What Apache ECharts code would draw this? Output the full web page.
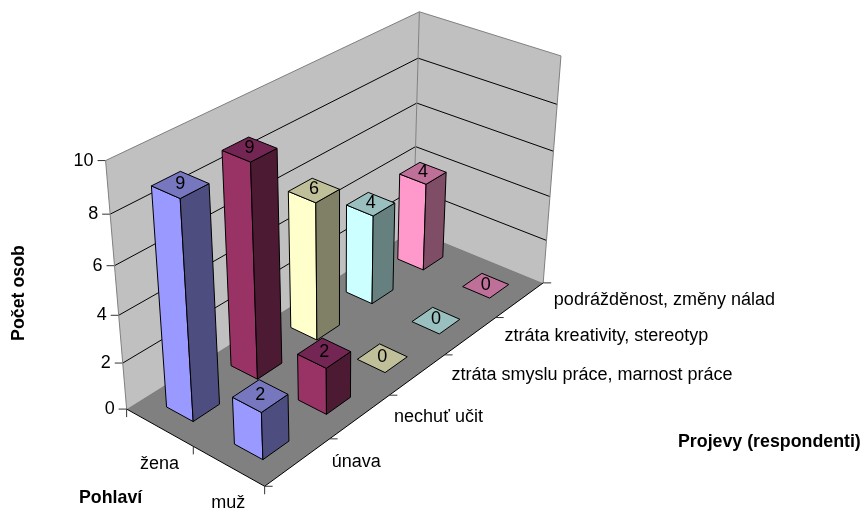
<!DOCTYPE html>
<html><head><meta charset="utf-8">
<style>html,body{margin:0;padding:0;background:#fff}#c{width:866px;height:508px}</style>
<script src="https://cdn.jsdelivr.net/npm/echarts@6/dist/echarts.min.js"></script>
</head><body><div id="c"></div>
<script>
// ---- data ----
const categories = ['únava','nechuť učit','ztráta smyslu práce, marnost práce','ztráta kreativity, stereotyp','podrážděnost, změny nálad'];
const genders = ['žena','muž'];
const valuesZena = [9,9,6,4,4];
const valuesMuz = [2,2,0,0,0];
const valueTicks = [0,2,4,6,8,10];
const frontColors = ['#9999FF','#993366','#FFFFCC','#CCFFFF','#FF99CC'];
const topColors = ['#7777BF','#732653','#BFBF99','#99BFBF','#BF7099'];
const sideColors = ['#4D4D80','#4D1A33','#808066','#668080','#804D66'];

// ---- view calibration of the 3D box: [category pos, gender pos, value, screen x, screen y] ----
const viewAnchors = [
 [0,0,0,126.7,408.5],[0,0,2,122.3,363.3],[0,0,4,118.3,315],[0,0,6,115,265],[0,0,8,110,215],[0,0,10,105.7,160.7],
 [5,0,10,419.3,11.7],[5,0,8,418.3,57.3],[5,0,6,417,104],[5,0,4,415.7,146.7],[5,0,0,413,230],
 [5,2,0,543.3,282.7],[5,2,2,546,240],[5,2,4,550,196.7],[5,2,6,554.3,151.7],[5,2,8,557,104.3],[5,2,10,560.3,55.7],
 [0,2,0,265,486.7]
];
const barSize = 0.4;

function fitCamera(pts){
  const n=11, A=Array.from({length:n},()=>new Array(n+1).fill(0));
  const add=(r,b)=>{for(let i=0;i<n;i++){for(let j=0;j<n;j++)A[i][j]+=r[i]*r[j];A[i][n]+=r[i]*b;}};
  pts.forEach(([u,v,z,x,y])=>{
    const U=u/5,V=v/2,Z=z/10,X=x/500,Y=y/500;
    add([U,V,Z,1,0,0,0,0,-X*U,-X*V,-X*Z],X);
    add([0,0,0,0,U,V,Z,1,-Y*U,-Y*V,-Y*Z],Y);
  });
  for(let i=0;i<n;i++){
    let p=i;for(let k=i+1;k<n;k++)if(Math.abs(A[k][i])>Math.abs(A[p][i]))p=k;
    [A[i],A[p]]=[A[p],A[i]];
    for(let k=0;k<n;k++){if(k===i)continue;const f=A[k][i]/A[i][i];for(let j=i;j<=n;j++)A[k][j]-=f*A[i][j];}
  }
  return A.map((r,i)=>r[n]/r[i]);
}
const cam=fitCamera(viewAnchors);
function pr(u,v,z){
  const U=u/5,V=v/2,Z=z/10,w=cam[8]*U+cam[9]*V+cam[10]*Z+1;
  return [500*(cam[0]*U+cam[1]*V+cam[2]*Z+cam[3])/w,500*(cam[4]*U+cam[5]*V+cam[6]*Z+cam[7])/w];
}
const FONT='18px "Liberation Sans", Arial, sans-serif';
const BOLD='bold 17.8px "Liberation Sans", Arial, sans-serif';
const poly=(points,fill,stroke,lw)=>({type:'polygon',shape:{points},style:{fill,stroke:stroke||null,lineWidth:lw||1}});
const line=(points,stroke)=>({type:'polyline',shape:{points},style:{fill:null,stroke,lineWidth:1}});
const text=(t,x,y,align,font)=>({type:'text',style:{text:t,x,y,fill:'#000',font:font||FONT,align:align||'center',verticalAlign:'middle'}});

function renderScene(){
  const maxV=valueTicks[valueTicks.length-1],nc=categories.length,ng=genders.length,ch=[];
  ch.push(poly([pr(0,0,0),pr(nc,0,0),pr(nc,0,maxV),pr(0,0,maxV)],'#C0C0C0'));
  ch.push(poly([pr(nc,0,0),pr(nc,ng,0),pr(nc,ng,maxV),pr(nc,0,maxV)],'#C0C0C0'));
  ch.push(poly([pr(0,0,0),pr(0,ng,0),pr(nc,ng,0),pr(nc,0,0)],'#808080'));
  valueTicks.forEach(t=>{
    if(t>0&&t<maxV) ch.push(line([pr(0,0,t),pr(nc,0,t),pr(nc,ng,t)],'#000'));
    const p=pr(0,0,t);
    ch.push(line([p,[p[0]-8,p[1]]],'#333'));
    ch.push(text(String(t),p[0]-12,p[1],'right'));
  });
  ch.push(line([pr(0,0,0),pr(0,0,maxV),pr(nc,0,maxV),pr(nc,ng,maxV),pr(nc,ng,0)],'#808080'));
  ch.push(line([pr(nc,0,0),pr(nc,0,maxV)],'#808080'));
  ch.push(line([pr(0,0,0),pr(0,ng,0),pr(nc,ng,0)],'#000'));
  for(let g=0;g<=ng;g++){const p=pr(0,g,0);ch.push(line([p,[p[0],p[1]+8]],'#333'));}
  for(let c=0;c<=nc;c++){const p=pr(c,ng,0);ch.push(line([p,[p[0]+8,p[1]]],'#333'));}
  categories.forEach((n,c)=>{const p=pr(c+.5,ng,0);ch.push(text(n,p[0]+34,p[1],'left'));});
  genders.forEach((n,g)=>{const p=pr(0,g+.5,0);ch.push(text(n,p[0],p[1]+37));});
  return {type:'group',children:ch};
}
function renderBar(params,api){
  const c=api.value(0),g=api.value(1),val=api.value(2),h=barSize/2;
  const u0=c+.5-h,u1=c+.5+h,v0=g+.5-h,v1=g+.5+h,ch=[];
  const k='#000';
  if(val>0){
    ch.push(poly([pr(u0,v0,0),pr(u0,v1,0),pr(u0,v1,val),pr(u0,v0,val)],frontColors[c],k));
    ch.push(poly([pr(u0,v1,0),pr(u1,v1,0),pr(u1,v1,val),pr(u0,v1,val)],sideColors[c],k));
  }
  ch.push(poly([pr(u0,v0,val),pr(u0,v1,val),pr(u1,v1,val),pr(u1,v0,val)],topColors[c],k));
  const m=pr(c+.5,g+.5,val);
  ch.push(text(String(val),m[0],m[1]-1));
  return {type:'group',children:ch};
}
// back to front: far categories first, back row (žena) before front row (muž)
const barData=[];
for(let c=categories.length-1;c>=0;c--){barData.push([c,0,valuesZena[c]]);barData.push([c,1,valuesMuz[c]]);}

const chart=echarts.init(document.getElementById('c'),null,{width:866,height:508});
chart.setOption({
  animation:false,backgroundColor:'#fff',
  series:[
    {type:'custom',coordinateSystem:'none',silent:true,z:1,clip:false,data:[[0]],renderItem:renderScene},
    {type:'custom',coordinateSystem:'none',silent:true,z:2,clip:false,data:barData,renderItem:renderBar}
  ],
  graphic:[
    {type:'text',left:678,top:433,style:{text:'Projevy (respondenti)',font:BOLD,fill:'#000'}},
    {type:'text',left:79,top:489,style:{text:'Pohlaví',font:BOLD,fill:'#000'}},
    {type:'text',x:19,y:293,rotation:Math.PI/2,style:{text:'Počet osob',font:BOLD,fill:'#000',align:'center',verticalAlign:'middle'}}
  ]
});
</script></body></html>
